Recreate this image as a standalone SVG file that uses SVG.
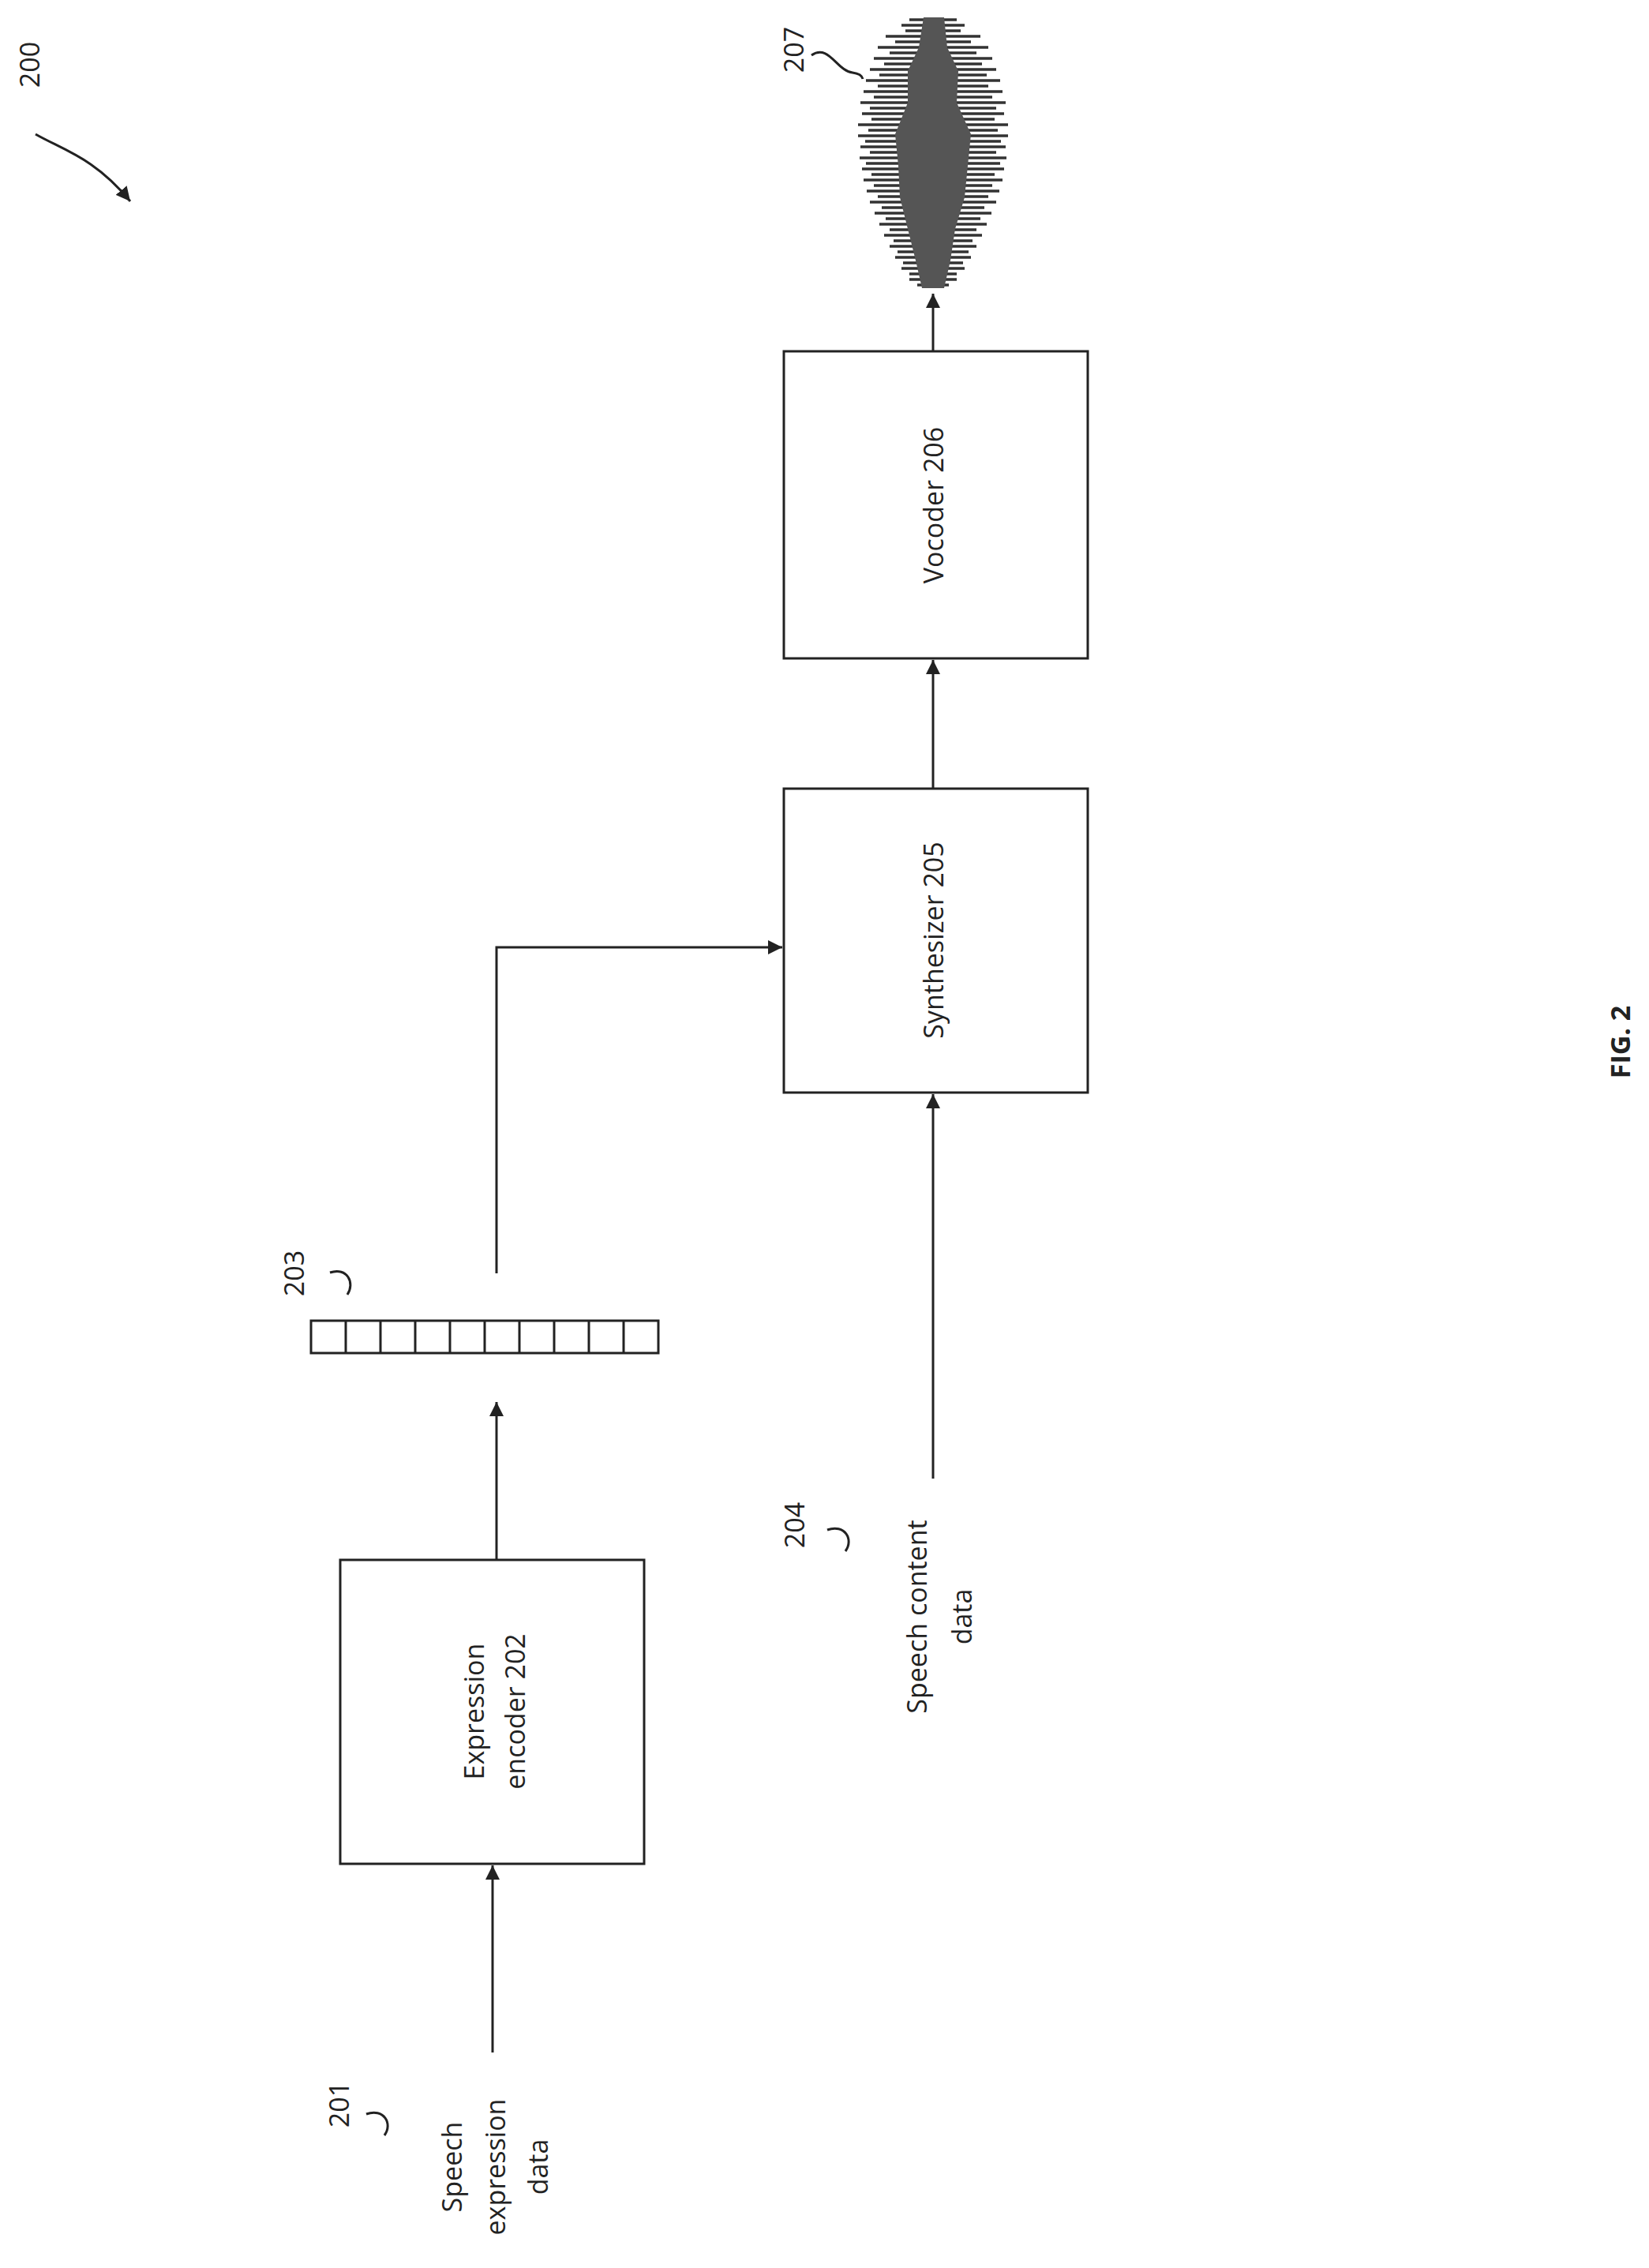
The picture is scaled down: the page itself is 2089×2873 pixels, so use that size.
<svg xmlns="http://www.w3.org/2000/svg" width="2089" height="2873" viewBox="0 0 2089 2873">
<style>
.box{fill:#fff;stroke:#222;stroke-width:3}
.ln{fill:none;stroke:#222;stroke-width:3}
.t{font-family:"Open Sans","Liberation Sans",sans-serif;font-size:34px;fill:#222;text-anchor:middle;dominant-baseline:central}
.wave{fill:none;stroke:#333;stroke-width:3.5}
</style>
<defs>
<marker id="ah" viewBox="0 0 10 10" refX="10" refY="5" markerWidth="7" markerHeight="7" orient="auto" markerUnits="userSpaceOnUse" style="overflow:visible">
<path d="M0,0 L10,5 L0,10 z" fill="#222" transform="scale(1.8)" />
</marker>
<marker id="ah2" viewBox="0 0 18 18" refX="18" refY="9" markerWidth="18" markerHeight="18" orient="auto" markerUnits="userSpaceOnUse">
<path d="M0,0 L18,9 L0,18 z" fill="#222"/>
</marker>
</defs>
<rect width="2089" height="2873" fill="#fff"/>
<g id="connectors">
<path class="ln" d="M1182,445 V372" marker-end="url(#ah2)"/>
<path class="ln" d="M1182,999 V836" marker-end="url(#ah2)"/>
<path class="ln" d="M1182,1873 V1386" marker-end="url(#ah2)"/>
<path class="ln" d="M629,1976 V1776" marker-end="url(#ah2)"/>
<path class="ln" d="M629,1613 V1200 H991" marker-end="url(#ah2)"/>
<path class="ln" d="M624,2600 V2363" marker-end="url(#ah2)"/>
<path class="ln" d="M45,170 C80,190 120,200 165,255" marker-end="url(#ah2)"/>
</g>
<g id="label200"><text class="t" x="37" y="82" transform="rotate(-90 37 82)">200</text></g>
<g id="n207">
<text class="t" x="1005" y="63" transform="rotate(-90 1005 63)">207</text>
<path class="ln" d="M1028,70 C1050,55 1060,90 1080,92 C1088,93 1092,96 1093,100" stroke-width="2.5"/>
<path class="wave" d="M1152,25h60M1142,32h80M1147,39h70M1122,46h120M1134,53h96M1112,60h140M1127,67h110M1107,74h150M1120,81h124M1102,88h160M1114,95h136M1097,102h170M1112,109h140M1094,116h176M1107,123h150M1090,130h184M1102,137h160M1092,144h180M1104,151h156M1087,158h190M1100,165h164M1087,172h190M1096,179h172M1090,186h184M1102,193h160M1089,200h186M1097,207h170M1092,214h180M1104,221h156M1094,228h176M1107,235h150M1098,242h168M1112,249h140M1102,256h160M1117,263h130M1108,270h148M1122,277h120M1114,284h136M1127,291h110M1120,298h124M1132,305h100M1127,312h110M1137,319h90M1134,326h96M1144,333h76M1142,340h80M1152,347h60M1152,354h60M1162,361h40"/>
<path d="M1170,22 L1196,22 L1200,60 L1214,90 L1212,130 L1230,170 L1226,210 L1222,250 L1210,290 L1204,330 L1196,365 L1168,365 L1160,330 L1150,290 L1140,250 L1138,210 L1134,170 L1150,130 L1150,90 L1164,60 z" fill="#555"/>
</g>
<g id="n206">
<rect class="box" x="993" y="445" width="385" height="389"/>
<text class="t" x="1182" y="640" transform="rotate(-90 1182 640)">Vocoder 206</text>
</g>
<g id="n205">
<rect class="box" x="993" y="999" width="385" height="385"/>
<text class="t" x="1182" y="1191" transform="rotate(-90 1182 1191)">Synthesizer 205</text>
</g>
<g id="n203">
<rect class="box" x="394" y="1673" width="440" height="41"/>
<path class="ln" d="M438,1673v41M482,1673v41M526,1673v41M570,1673v41M614,1673v41M658,1673v41M702,1673v41M746,1673v41M790,1673v41"/>
<text class="t" x="372" y="1613" transform="rotate(-90 372 1613)">203</text>
<path class="ln" stroke-width="2.5" d="M418,1612 C440,1605 450,1625 440,1640"/>
</g>
<g id="n202">
<rect class="box" x="431" y="1976" width="385" height="385"/>
<text class="t" x="600" y="2168" transform="rotate(-90 600 2168)">Expression</text>
<text class="t" x="652" y="2168" transform="rotate(-90 652 2168)">encoder 202</text>
</g>
<g id="n204">
<text class="t" x="1006" y="1932" transform="rotate(-90 1006 1932)">204</text>
<path class="ln" stroke-width="2.5" d="M1048,1938 C1070,1930 1082,1950 1071,1965"/>
<text class="t" x="1161" y="2048" transform="rotate(-90 1161 2048)">Speech content</text>
<text class="t" x="1218" y="2048" transform="rotate(-90 1218 2048)">data</text>
</g>
<g id="n201">
<text class="t" x="429" y="2666" transform="rotate(-90 429 2666)">201</text>
<path class="ln" stroke-width="2.5" d="M464,2678 C486,2670 498,2690 487,2705"/>
<text class="t" x="572" y="2745" transform="rotate(-90 572 2745)">Speech</text>
<text class="t" x="627" y="2745" transform="rotate(-90 627 2745)">expression</text>
<text class="t" x="681" y="2745" transform="rotate(-90 681 2745)">data</text>
</g>
<g id="fig"><text class="t" x="2052" y="1320" font-weight="bold" font-size="46" transform="rotate(-90 2052 1320)">FIG. 2</text></g>
</svg>
